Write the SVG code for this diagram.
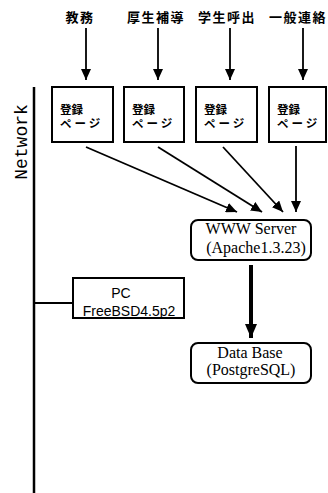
<svg xmlns="http://www.w3.org/2000/svg" width="328" height="493" viewBox="0 0 328 493">
<style>
.lbl{font-family:"Noto Sans CJK JP","Noto Sans CJK SC",sans-serif;font-weight:bold;font-size:13px;letter-spacing:1.5px;fill:#000;text-anchor:middle}
.jp{font-family:"Noto Sans CJK JP","Noto Sans CJK SC",sans-serif;font-weight:bold;font-size:11.5px;fill:#000}
.serif{font-family:"Liberation Serif","Times New Roman",serif;font-size:16px;fill:#000;text-anchor:middle}
.sans{font-family:"Liberation Sans",Arial,sans-serif;font-size:14px;fill:#000;text-anchor:middle}
.box{fill:#fff;stroke:#000;stroke-width:2}
.ln{stroke:#000;stroke-width:1.8;fill:none}
</style>
<defs>
<marker id="ah" markerUnits="userSpaceOnUse" markerWidth="12" markerHeight="10" refX="11" refY="5" orient="auto">
<path d="M0,0 L11,5 L0,10 Z" fill="#000"/>
</marker>
<marker id="ahb" markerUnits="userSpaceOnUse" markerWidth="14" markerHeight="12" refX="14" refY="6" orient="auto">
<path d="M0,0 L14,6 L0,12 Z" fill="#000"/>
</marker>
</defs>
<g id="labels">
<text class="lbl" x="80" y="22">教務</text>
<text class="lbl" x="156" y="22">厚生補導</text>
<text class="lbl" x="227" y="22">学生呼出</text>
<text class="lbl" x="298" y="22">一般連絡</text>
</g>
<g id="network">
<line x1="34" y1="87" x2="34" y2="493" stroke="#000" stroke-width="2.5"/>
<text x="27" y="142" transform="rotate(-90 27 142)" font-family="Liberation Mono,Courier New,monospace" font-size="18" text-anchor="middle" fill="#000">Network</text>
</g>
<g id="page1">
<rect class="box" x="52" y="87" width="61" height="55"/>
<text class="jp" x="60" y="113.5">登録</text>
<text class="jp" x="60" y="128" letter-spacing="3">ページ</text>
</g>
<g id="page2">
<rect class="box" x="124" y="87" width="60" height="55"/>
<text class="jp" x="132" y="113.5">登録</text>
<text class="jp" x="132" y="128" letter-spacing="3">ページ</text>
</g>
<g id="page3">
<rect class="box" x="196" y="87" width="61" height="55"/>
<text class="jp" x="204" y="113.5">登録</text>
<text class="jp" x="204" y="128" letter-spacing="3">ページ</text>
</g>
<g id="page4">
<rect class="box" x="269" y="87" width="57" height="55"/>
<text class="jp" x="277" y="113.5">登録</text>
<text class="jp" x="277" y="128" letter-spacing="3">ページ</text>
</g>
<g id="www">
<rect class="box" x="191" y="220" width="120" height="40" rx="7"/>
<text class="serif" x="251" y="234">WWW Server</text>
<text class="serif" x="256" y="253">(Apache1.3.23)</text>
</g>
<g id="db">
<rect class="box" x="191" y="343" width="120" height="40" rx="7"/>
<text class="serif" x="250" y="358">Data Base</text>
<text class="serif" x="251" y="375">(PostgreSQL)</text>
</g>
<g id="pc">
<rect class="box" x="73" y="278" width="111" height="40"/>
<text class="sans" x="121" y="298">PC</text>
<text class="sans" x="129" y="316">FreeBSD4.5p2</text>
</g>
<g id="connectors">
<line class="ln" x1="86" y1="28" x2="86" y2="80" marker-end="url(#ah)"/>
<line class="ln" x1="158" y1="28" x2="158" y2="80" marker-end="url(#ah)"/>
<line class="ln" x1="230" y1="28" x2="230" y2="80" marker-end="url(#ah)"/>
<line class="ln" x1="303" y1="28" x2="303" y2="80" marker-end="url(#ah)"/>
<line class="ln" x1="86" y1="147" x2="237" y2="212" marker-end="url(#ah)"/>
<line class="ln" x1="158" y1="147" x2="262" y2="212" marker-end="url(#ah)"/>
<line class="ln" x1="223" y1="147" x2="283" y2="212" marker-end="url(#ah)"/>
<line class="ln" x1="296" y1="146" x2="296" y2="212" marker-end="url(#ah)"/>
<line x1="251" y1="265" x2="251" y2="338" stroke="#000" stroke-width="4" marker-end="url(#ahb)"/>
<line x1="34" y1="303" x2="73" y2="303" stroke="#000" stroke-width="1.8"/>
</g>
</svg>
